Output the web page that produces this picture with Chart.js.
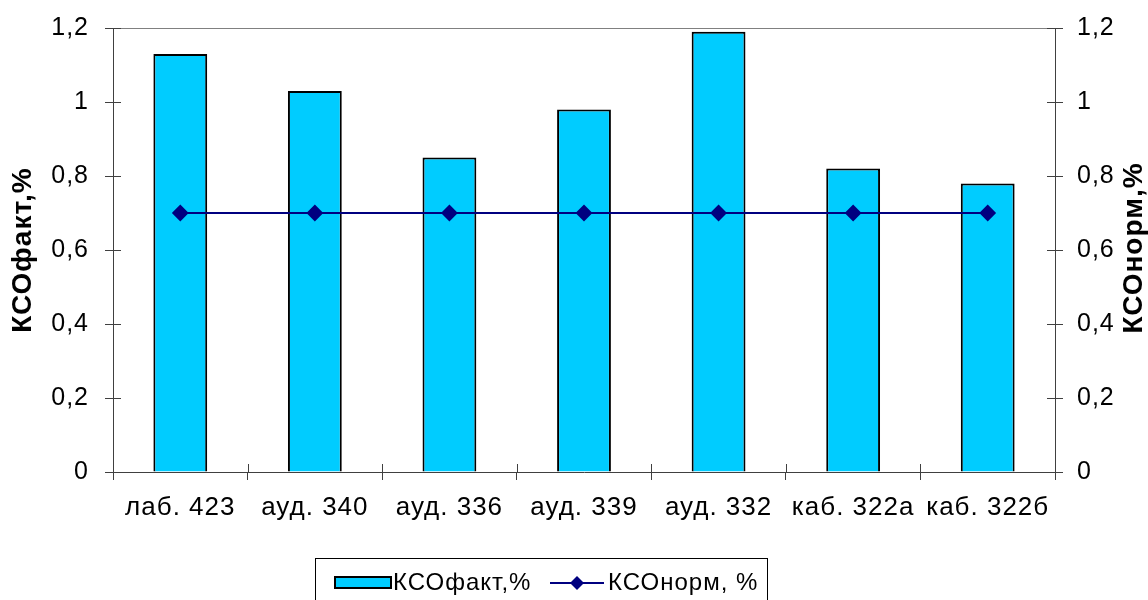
<!DOCTYPE html>
<html>
<head>
<meta charset="utf-8">
<script src="https://cdn.jsdelivr.net/npm/chart.js@4.4.1/dist/chart.umd.min.js"></script>
<style>
  html, body { margin: 0; padding: 0; background: #fff; }
  #wrap { width: 1148px; height: 600px; }
</style>
</head>
<body>
<div id="wrap"><canvas id="c" width="1148" height="600"></canvas></div>
<script>
// Rooms and their lighting coefficients
const rooms = ['лаб. 423', 'ауд. 340', 'ауд. 336', 'ауд. 339', 'ауд. 332', 'каб. 322а', 'каб. 322б'];
const ksoFact = [1.13, 1.03, 0.85, 0.98, 1.19, 0.82, 0.78];
const ksoNorm = [0.7, 0.7, 0.7, 0.7, 0.7, 0.7, 0.7];
const seriesNames = ['КСОфакт,%', 'КСОнорм, %'];
const axisTitles = ['КСОфакт,%', 'КСОнорм,%'];

const FONT = "'Liberation Sans', Arial, sans-serif";
const BAR_COLOR = '#00CCFF';
const LINE_COLOR = '#000080';
const AXIS_COLOR = '#404040';

const fmt = v => String(Math.round(v * 10) / 10).replace('.', ',');

// Slightly looser text tracking for every label
const tracking = {
  id: 'tracking',
  beforeDraw(chart) { chart.ctx.letterSpacing = '1px'; }
};

// Short ticks crossing into the plot, top frame line, right title and framed legend
const decor = {
  id: 'decor',
  afterDraw(chart) {
    const ctx = chart.ctx;
    const a = chart.chartArea;
    const x = chart.scales.x, y = chart.scales.y, y1 = chart.scales.y1;
    ctx.save();
    ctx.letterSpacing = '1px';
    // top frame
    ctx.strokeStyle = '#808080';
    ctx.lineWidth = 1;
    ctx.beginPath();
    ctx.moveTo(a.left, Math.round(a.top) + 0.5);
    ctx.lineTo(a.right, Math.round(a.top) + 0.5);
    ctx.stroke();
    // inner tick halves
    ctx.strokeStyle = AXIS_COLOR;
    ctx.beginPath();
    y.ticks.forEach(t => {
      const py = Math.round(y.getPixelForValue(t.value)) + 0.5;
      ctx.moveTo(a.left, py); ctx.lineTo(a.left + 8, py);
    });
    y1.ticks.forEach(t => {
      const py = Math.round(y1.getPixelForValue(t.value)) + 0.5;
      ctx.moveTo(a.right - 8, py); ctx.lineTo(a.right, py);
    });
    for (let i = 1; i < rooms.length; i++) {
      const px = Math.round((x.getPixelForValue(i - 1) + x.getPixelForValue(i)) / 2) + 0.5;
      ctx.moveTo(px, a.bottom); ctx.lineTo(px, a.bottom - 8);
    }
    ctx.stroke();

    // right axis title, reading upward
    ctx.fillStyle = '#000';
    ctx.font = 'bold 28px ' + FONT;
    ctx.textAlign = 'center';
    ctx.textBaseline = 'middle';
    ctx.translate(1134, 248);
    ctx.rotate(-Math.PI / 2);
    ctx.fillText(axisTitles[1], 0, 0);
    ctx.restore();

    // legend
    ctx.save();
    ctx.letterSpacing = '1px';
    ctx.strokeStyle = '#000';
    ctx.lineWidth = 1;
    ctx.strokeRect(315.5, 558.5, 452, 60);
    ctx.fillStyle = BAR_COLOR;
    ctx.fillRect(335, 577, 56, 11);
    ctx.lineWidth = 2;
    ctx.strokeRect(335, 577, 56, 11);
    ctx.fillStyle = '#000';
    ctx.font = '24px ' + FONT;
    ctx.textAlign = 'left';
    ctx.textBaseline = 'middle';
    ctx.fillText(seriesNames[0], 393, 583);
    ctx.strokeStyle = LINE_COLOR;
    ctx.lineWidth = 2;
    ctx.beginPath();
    ctx.moveTo(550, 583); ctx.lineTo(604, 583);
    ctx.stroke();
    ctx.fillStyle = LINE_COLOR;
    ctx.beginPath();
    ctx.moveTo(577, 576); ctx.lineTo(584, 583); ctx.lineTo(577, 590); ctx.lineTo(570, 583);
    ctx.closePath(); ctx.fill();
    ctx.fillStyle = '#000';
    ctx.fillText(seriesNames[1], 608, 583);
    ctx.restore();
  }
};

// Vertical axes keep a fixed width and add no extra top/bottom room
const fixVertical = w => s => { s.width = w; s.paddingTop = 0; s.paddingBottom = 0; };

new Chart(document.getElementById('c'), {
  type: 'bar',
  data: {
    labels: rooms,
    datasets: [
      {
        type: 'line',
        label: seriesNames[1],
        data: ksoNorm,
        yAxisID: 'y1',
        borderColor: LINE_COLOR,
        backgroundColor: LINE_COLOR,
        borderWidth: 2,
        pointStyle: 'rectRot',
        pointRadius: 7,
        pointHoverRadius: 7,
        tension: 0,
        order: 0
      },
      {
        type: 'bar',
        label: seriesNames[0],
        data: ksoFact,
        yAxisID: 'y',
        backgroundColor: BAR_COLOR,
        borderColor: '#000',
        borderWidth: 2,
        categoryPercentage: 1,
        barPercentage: 0.4,
        order: 1
      }
    ]
  },
  options: {
    responsive: false,
    animation: false,
    events: [],
    layout: { padding: { top: 28, left: 0, right: 0, bottom: 0 } },
    plugins: { legend: { display: false }, tooltip: { enabled: false } },
    scales: {
      x: {
        offset: true,
        grid: { display: true, drawOnChartArea: false, offset: true, tickLength: 8, color: AXIS_COLOR },
        border: { display: true, color: AXIS_COLOR, width: 1 },
        ticks: { color: '#000', font: { family: FONT, size: 26 }, padding: 12, maxRotation: 0, autoSkip: false },
        afterFit(s) { s.height = 128; s.paddingLeft = 0; s.paddingRight = 0; }
      },
      y: {
        position: 'left',
        min: 0, max: 1.2,
        grid: { display: true, drawOnChartArea: false, tickLength: 8, color: AXIS_COLOR },
        border: { display: true, color: AXIS_COLOR, width: 1 },
        ticks: { stepSize: 0.2, color: '#000', font: { family: FONT, size: 25 }, padding: 16, callback: v => fmt(v) },
        title: { display: true, text: axisTitles[0], color: '#000', font: { family: FONT, size: 28, weight: 'bold' }, padding: { top: 6, bottom: 0 } },
        afterFit: fixVertical(113)
      },
      y1: {
        position: 'right',
        min: 0, max: 1.2,
        grid: { display: true, drawOnChartArea: false, tickLength: 8, color: AXIS_COLOR },
        border: { display: true, color: AXIS_COLOR, width: 1 },
        ticks: { stepSize: 0.2, color: '#000', font: { family: FONT, size: 25 }, padding: 14, callback: v => fmt(v) },
        afterFit: fixVertical(93)
      }
    }
  },
  plugins: [tracking, decor]
});
</script>
</body>
</html>
